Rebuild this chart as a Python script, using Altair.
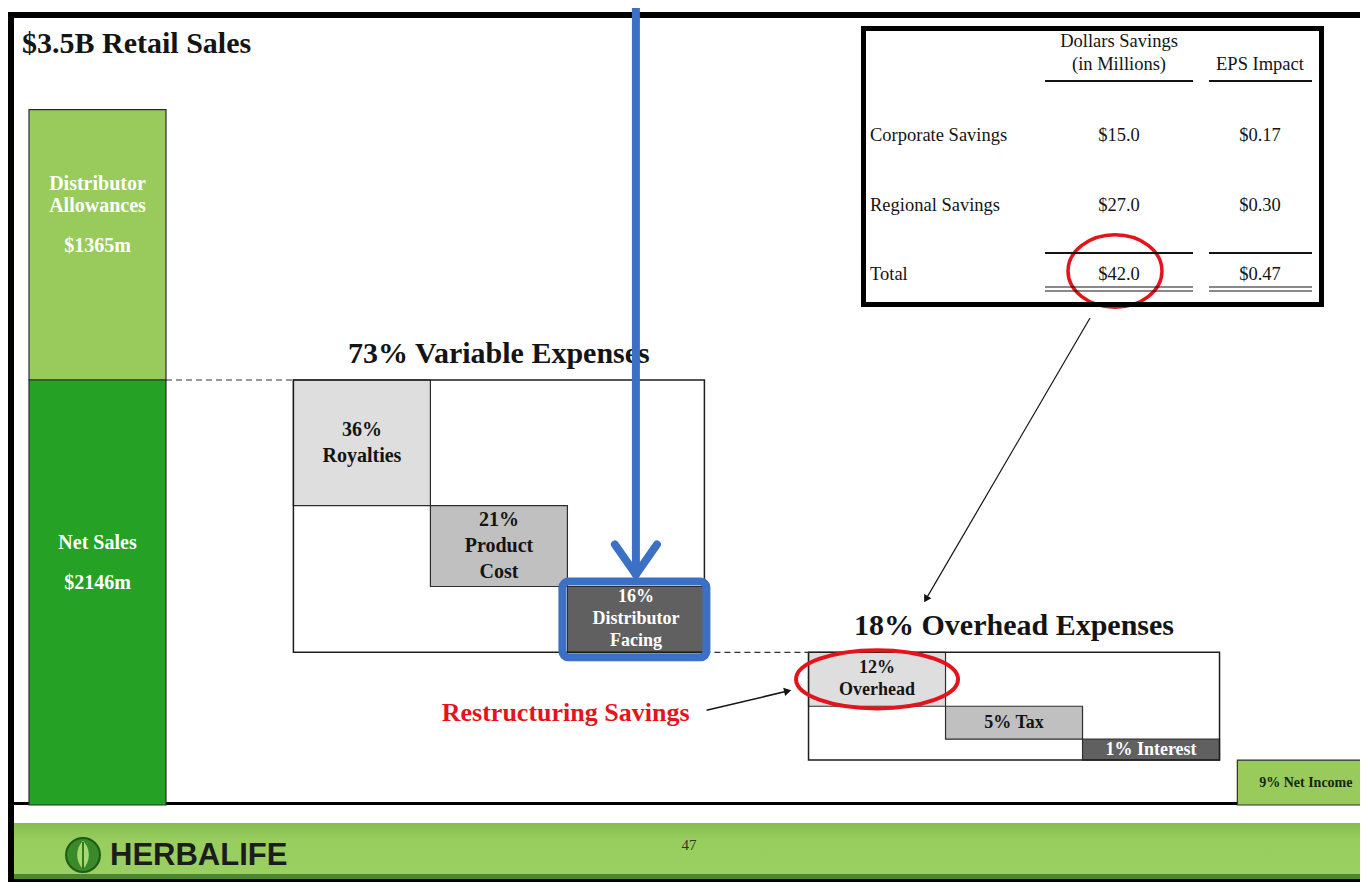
import math
import altair as alt
import pandas as pd

# ------------------------------------------------------------------ data
TITLE = "$3.5B Retail Sales"
sales_segments = ["Distributor Allowances", "Net Sales"]
sales_values_m = [1365, 2146]
sales_names = ["Distributor\nAllowances", "Net Sales"]

expense_items = ["Royalties", "Product Cost", "Distributor Facing",
                 "Overhead", "Tax", "Interest", "Net Income"]
expense_pct = [36, 21, 16, 12, 5, 1, 9]
expense_group = ["Variable", "Variable", "Variable",
                 "Overhead", "Overhead", "Overhead", "Net Income"]
expense_text = ["36%\nRoyalties", "21%\nProduct\nCost", "16%\nDistributor\nFacing",
                "12%\nOverhead", "5% Tax", "1% Interest", "9% Net Income"]
group_names = ["Variable", "Overhead"]
group_titles = ["Variable Expenses", "Overhead Expenses"]

savings_rows = ["Corporate Savings", "Regional Savings", "Total"]
savings_dollars_m = [15.0, 27.0, 42.0]
savings_eps = [0.17, 0.30, 0.47]
savings_headers = ["Dollars Savings\n(in Millions)", "EPS Impact"]

CALLOUT = "Restructuring Savings"
BRAND = "HERBALIFE"
PAGE_NO = "47"

# ------------------------------------------------------------------ layout / style
W, H = 1352, 874
SERIF, SANS = "Liberation Serif", "Liberation Sans"
STEP_PX = 137.0          # width of one step column
BAR_LEFT_PX = 21.0
NET_TOP_PX = 372.0
NET_BOTTOM_PX = 797.0
MIN_BOX = 6.0            # schematic padding added to every step (display units)
GROUP_GAP = {"Variable": 0.93, "Overhead": 0.76, "Net Income": 0.13}
SALES_FILL = ["#98CB5C", "#25A125"]
SALES_FS, SALES_LH, SALES_GAP, SALES_SHIFT = 20, 22, 40, -30
SHADE_FILL = ["#DEDEDE", "#C0C0C0", "#606060"]
SHADE_INK = ["#141414", "#141414", "#FFFFFF"]
NET_FILL, NET_INK = "#98CB5C", "#17260E"
BLUE, RED, INK = "#3C70C4", "#E3141C", "#141414"
LINE_H = {20: 26, 18: 22, 14: 16}

total_units = sum(p + MIN_BOX for p in expense_pct)
allow_units = total_units * sales_values_m[0] / sales_values_m[1]
k = (NET_BOTTOM_PX - NET_TOP_PX) / total_units
y0d = allow_units - NET_TOP_PX / k
y_dom = [y0d, y0d + H / k]
x0d = -BAR_LEFT_PX / STEP_PX
x_dom = [x0d, x0d + W / STEP_PX]


def px_x(u):
    return (u - x_dom[0]) * STEP_PX


def px_y(u):
    return (u - y_dom[0]) * k


XS = alt.Scale(domain=x_dom, nice=False, zero=False)
YS = alt.Scale(domain=y_dom, nice=False, zero=False, reverse=True)


def X(f):
    return alt.X(f, type="quantitative", scale=XS, axis=None)


def Y(f):
    return alt.Y(f, type="quantitative", scale=YS, axis=None)


def ellipse_path(r):
    c = 0.5523
    return (f"M-1,0C-1,{-r*c:.3f},{-c:.3f},{-r:.3f},0,{-r:.3f}"
            f"C{c:.3f},{-r:.3f},1,{-r*c:.3f},1,0"
            f"C1,{r*c:.3f},{c:.3f},{r:.3f},0,{r:.3f}"
            f"C{-c:.3f},{r:.3f},-1,{r*c:.3f},-1,0Z")


def heading(dx, dy):
    return math.degrees(math.atan2(dx, -dy)) % 360


def first_line(ym, text, lh, shift_px=0.0):
    n = text.count("\n") + 1
    return ym + (shift_px - (n - 1) * lh / 2.0) / k


# ------------------------------------------------------------------ tables
rows = []
top = 0.0
for seg, v, name, fill in zip(sales_segments, sales_values_m, sales_names, SALES_FILL):
    h = total_units * v / sales_values_m[1]
    ym = top + h / 2
    n = name.count("\n") + 1
    span = (n - 1) * SALES_LH + SALES_GAP
    y_name = ym + (SALES_SHIFT - span / 2.0) / k
    y_amt = y_name + span / k
    rows.append(dict(seg=seg, value=v, name=name, amount=f"${v}m", fill=fill,
                     x0=0.0, x1=1.0, xm=0.5, y0=top, y1=top + h, ym=ym,
                     y_name=y_name, y_amt=y_amt))
    top += h
sales_df = pd.DataFrame(rows)

rows = []
x = 1.0
cum = allow_units
prev = None
shade = 0
for item, p, g, t in zip(expense_items, expense_pct, expense_group, expense_text):
    if g != prev:
        x += GROUP_GAP[g]
        shade = 0
    else:
        shade += 1
    h = p + MIN_BOX
    if g == "Net Income":
        fill, ink, fs = NET_FILL, NET_INK, 14
    else:
        fill, ink = SHADE_FILL[shade], SHADE_INK[shade]
        fs = 20 if (g == "Variable" and shade < 2) else 18
    ym = cum + h / 2
    rows.append(dict(item=item, pct=p, group=g, text=t, fill=fill, ink=ink, fs=fs,
                     x0=x, x1=x + 1, xm=x + 0.5, y0=cum, y1=cum + h, ym=ym,
                     yt=first_line(ym, t, LINE_H[fs]), ytop=y_dom[0]))
    x += 1
    cum += h
    prev = g
exp_df = pd.DataFrame(rows)

rows = []
for g, title in zip(group_names, group_titles):
    sub = exp_df[exp_df.group == g]
    rows.append(dict(group=g, title=f"{int(sub.pct.sum())}% {title}",
                     x0=sub.x0.min(), x1=sub.x1.max(),
                     xm=(sub.x0.min() + sub.x1.max()) / 2,
                     y0=sub.y0.min(), y1=sub.y1.max()))
grp_df = pd.DataFrame(rows)
var_g, ovh_g = grp_df.iloc[0], grp_df.iloc[1]
conn_df = pd.DataFrame([
    dict(xa=1.0, xb=var_g.x0, ya=allow_units, yb=allow_units),
    dict(xa=var_g.x1, xb=ovh_g.x0, ya=var_g.y1, yb=var_g.y1),
])

tab_df = pd.DataFrame(dict(row=savings_rows, dollars=savings_dollars_m, eps=savings_eps))

# ------------------------------------------------------------------ helpers for page furniture
one = pd.DataFrame({"k": [0]})


def vrect(x1, y1, x2, y2, **kw):
    return alt.Chart(one).mark_rect(**kw).encode(
        x=alt.value(x1), x2=alt.value(x2), y=alt.value(y1), y2=alt.value(y2))


def vrule(x1, y1, x2, y2, **kw):
    return alt.Chart(one).mark_rule(**kw).encode(
        x=alt.value(x1), x2=alt.value(x2), y=alt.value(y1), y2=alt.value(y2))


def vtext(xv, yv, text, **kw):
    return alt.Chart(one).mark_text(text=text, **kw).encode(x=alt.value(xv), y=alt.value(yv))


def vpoint(xv, yv, **kw):
    return alt.Chart(one).mark_point(**kw).encode(x=alt.value(xv), y=alt.value(yv))


# ------------------------------------------------------------------ background furniture
footer_grad = alt.Gradient(gradient="linear", x1=0, y1=0, x2=0, y2=1,
                           stops=[alt.GradientStop(color="#86BD4F", offset=0),
                                  alt.GradientStop(color="#98CE5E", offset=0.35),
                                  alt.GradientStop(color="#9AD062", offset=1)])
background = [
    vrect(0, 807, W, 815, color="white"),
    vrect(6, 815, W, 866, color=footer_grad),
    vrect(6, 866, W, 871, color="#4C862D"),
    vrect(0, 871, W, H, color="black"),
    vrect(0, 4, W, 10, color="black"),
    vrect(0, 4, 6, H, color="black"),
    vrule(6, 795.5, W, 795.5, color="black", strokeWidth=3),
    vtext(14, 36, TITLE, font=SERIF, fontWeight="bold", fontSize=30, align="left",
          baseline="middle", color=INK),
    vpoint(75, 847, shape="circle", filled=True, size=1150, color="#3A8A2A", opacity=1,
           stroke="#1E5A16", strokeWidth=2),
    vpoint(75, 847, shape="M0,-1C0.55,-0.45,0.55,0.45,0,1C-0.55,0.45,-0.55,-0.45,0,-1Z",
           filled=True, size=800, color="#A9D872", opacity=1),
    vrule(75, 834, 75, 861, color="#2F7A22", strokeWidth=2),
    vtext(102, 848, BRAND, font=SANS, fontWeight="bold", fontSize=31, align="left",
          baseline="middle", color="#1C1C1C"),
    vtext(681, 837, PAGE_NO, font=SERIF, fontSize=15, align="center", baseline="middle",
          color="#333333"),
]

# ------------------------------------------------------------------ main diagram
sales_bars = alt.Chart(sales_df).mark_rect(stroke="#2C2C2C", strokeWidth=1.2).encode(
    x=X("x0"), x2="x1", y=Y("y0"), y2="y1", fill=alt.Fill("fill:N", scale=None))
sales_font = dict(font=SERIF, fontWeight="bold", fontSize=SALES_FS, color="white",
                  baseline="middle", align="center")
sales_name_labels = alt.Chart(sales_df).mark_text(
    lineHeight=SALES_LH, lineBreak="\n", **sales_font).encode(
    x=X("xm"), y=Y("y_name"), text="name:N")
sales_amt_labels = alt.Chart(sales_df).mark_text(**sales_font).encode(
    x=X("xm"), y=Y("y_amt"), text="amount:N")

boxes = alt.Chart(exp_df).mark_rect(stroke="#2E2E2E", strokeWidth=1.2).encode(
    x=X("x0"), x2="x1", y=Y("y0"), y2="y1", fill=alt.Fill("fill:N", scale=None))
outlines = alt.Chart(grp_df).mark_rect(filled=False, color="#1E1E1E", strokeWidth=1.5).encode(
    x=X("x0"), x2="x1", y=Y("y0"), y2="y1")
titles = alt.Chart(grp_df).mark_text(
    font=SERIF, fontWeight="bold", fontSize=30, baseline="middle", align="center",
    dy=-26, color=INK).encode(x=X("xm"), y=Y("y0"), text="title:N")
connectors = alt.Chart(conn_df).mark_rule(strokeDash=[6, 4], color="#333333", strokeWidth=1.2).encode(
    x=X("xa"), x2="xb", y=Y("ya"), y2="yb")

label_layers = [
    alt.Chart(exp_df).transform_filter(f"datum.fs == {fs}").mark_text(
        font=SERIF, fontWeight="bold", fontSize=fs, lineHeight=LINE_H[fs], lineBreak="\n",
        baseline="middle", align="center").encode(
        x=X("xm"), y=Y("yt"), text="text:N", color=alt.Color("ink:N", scale=None))
    for fs in sorted(set(exp_df.fs))
]

ovh = alt.Chart(exp_df).transform_filter("datum.item == 'Overhead'")
ring = ovh.mark_point(shape=ellipse_path(0.36), size=162 ** 2, filled=False, color=RED,
                      strokeWidth=4, opacity=1).encode(x=X("xm"), y=Y("ym"))
callout = ovh.mark_text(text=CALLOUT, font=SERIF, fontWeight="bold", fontSize=26, color=RED,
                        align="right", baseline="middle", dx=-119, dy=34).encode(x=X("x0"), y=Y("ym"))
c_ang = heading(85, -20)
callout_line = ovh.mark_rule(color=INK, strokeWidth=1.5, xOffset=-102, yOffset=31,
                             x2Offset=-22, y2Offset=12).encode(
    x=X("x0"), x2="x0", y=Y("ym"), y2="ym")
callout_head = ovh.mark_point(shape="triangle", filled=True, color=INK, size=70, opacity=1,
                              angle=c_ang, xOffset=-22, yOffset=12).encode(x=X("x0"), y=Y("ym"))

hl = alt.Chart(exp_df).transform_filter("datum.item == 'Distributor Facing'")
highlight = hl.mark_rect(filled=False, color=BLUE, strokeWidth=8, cornerRadius=6,
                         xOffset=-5, x2Offset=2, yOffset=-5, y2Offset=5).encode(
    x=X("x0"), x2="x1", y=Y("y0"), y2="y1")
stem = hl.mark_rule(color=BLUE, strokeWidth=8, y2Offset=-12).encode(
    x=X("xm"), y=Y("ytop"), y2="y0")
arms = [hl.mark_rule(color=BLUE, strokeWidth=8, strokeCap="round", yOffset=-12,
                     x2Offset=s * 21, y2Offset=-42).encode(
    x=X("xm"), x2="xm", y=Y("y0"), y2="y0") for s in (-1, 1)]

main = alt.layer(sales_bars, sales_name_labels, sales_amt_labels, boxes, outlines, titles,
                 connectors, *label_layers, ring, callout, callout_line, callout_head,
                 highlight, stem, *arms)

# ------------------------------------------------------------------ savings table
TY = alt.Y("row:N", scale=alt.Scale(type="point", domain=savings_rows, range=[127, 266], padding=0),
           axis=None)
tab_font = dict(font=SERIF, fontSize=18.5, baseline="middle", color=INK)
tab_labels = alt.Chart(tab_df).mark_text(align="left", **tab_font).encode(
    x=alt.value(862), y=TY, text="row:N")
tab_dollars = alt.Chart(tab_df).mark_text(align="center", **tab_font).encode(
    x=alt.value(1111), y=TY, text=alt.Text("dollars:Q", format="$.1f"))
tab_eps = alt.Chart(tab_df).mark_text(align="center", **tab_font).encode(
    x=alt.value(1252), y=TY, text=alt.Text("eps:Q", format="$.2f"))
tab_ring = alt.Chart(tab_df).transform_filter("datum.row == 'Total'").mark_point(
    shape=ellipse_path(0.77), size=94 ** 2, filled=False, color=RED, strokeWidth=3.5,
    opacity=1, xOffset=-4, yOffset=-3).encode(x=alt.value(1111), y=TY)
table_layer = alt.layer(tab_labels, tab_dollars, tab_eps, tab_ring)

table_furniture = [
    vrect(855.5, 20.5, 1313.5, 296.5, filled=False, color="black", strokeWidth=5),
    vtext(1111, 33, savings_headers[0], lineBreak="\n", lineHeight=23, align="center", **tab_font),
    vtext(1252, 56, savings_headers[1], align="center", **tab_font),
    vrule(1037, 73, 1185, 73, color=INK, strokeWidth=2.2),
    vrule(1201, 73, 1304, 73, color=INK, strokeWidth=2.2),
    vrule(1037, 245, 1185, 245, color=INK, strokeWidth=2.2),
    vrule(1201, 245, 1304, 245, color=INK, strokeWidth=2.2),
    vrule(1037, 279, 1185, 279, color=INK, strokeWidth=1.2),
    vrule(1201, 279, 1304, 279, color=INK, strokeWidth=1.2),
    vrule(1037, 283, 1185, 283, color=INK, strokeWidth=1.2),
    vrule(1201, 283, 1304, 283, color=INK, strokeWidth=1.2),
]

# arrow from the table down to the overhead section
a_start = (1082.0, 310.0)
a_end = (px_x(ovh_g.x0) + 115.0, px_y(ovh_g.y0) - 49.0)
adx, ady = a_end[0] - a_start[0], a_end[1] - a_start[1]
alen = math.hypot(adx, ady)
head_c = (a_end[0] - 6 * adx / alen, a_end[1] - 6 * ady / alen)
table_arrow = [
    vrule(a_start[0], a_start[1], head_c[0], head_c[1], color=INK, strokeWidth=1.2),
    vpoint(head_c[0], head_c[1], shape="triangle", filled=True, color=INK, size=70,
           opacity=1, angle=heading(adx, ady)),
]

chart = alt.layer(
    *background, main, table_layer, *table_furniture, *table_arrow
).resolve_scale(x="independent", y="independent").properties(
    width=W, height=H, autosize=alt.AutoSizeParams(type="none"), padding=0,
    background="white"
).configure_view(strokeWidth=0)

chart.save("out.html", embed_options={"renderer": "svg", "actions": False})
